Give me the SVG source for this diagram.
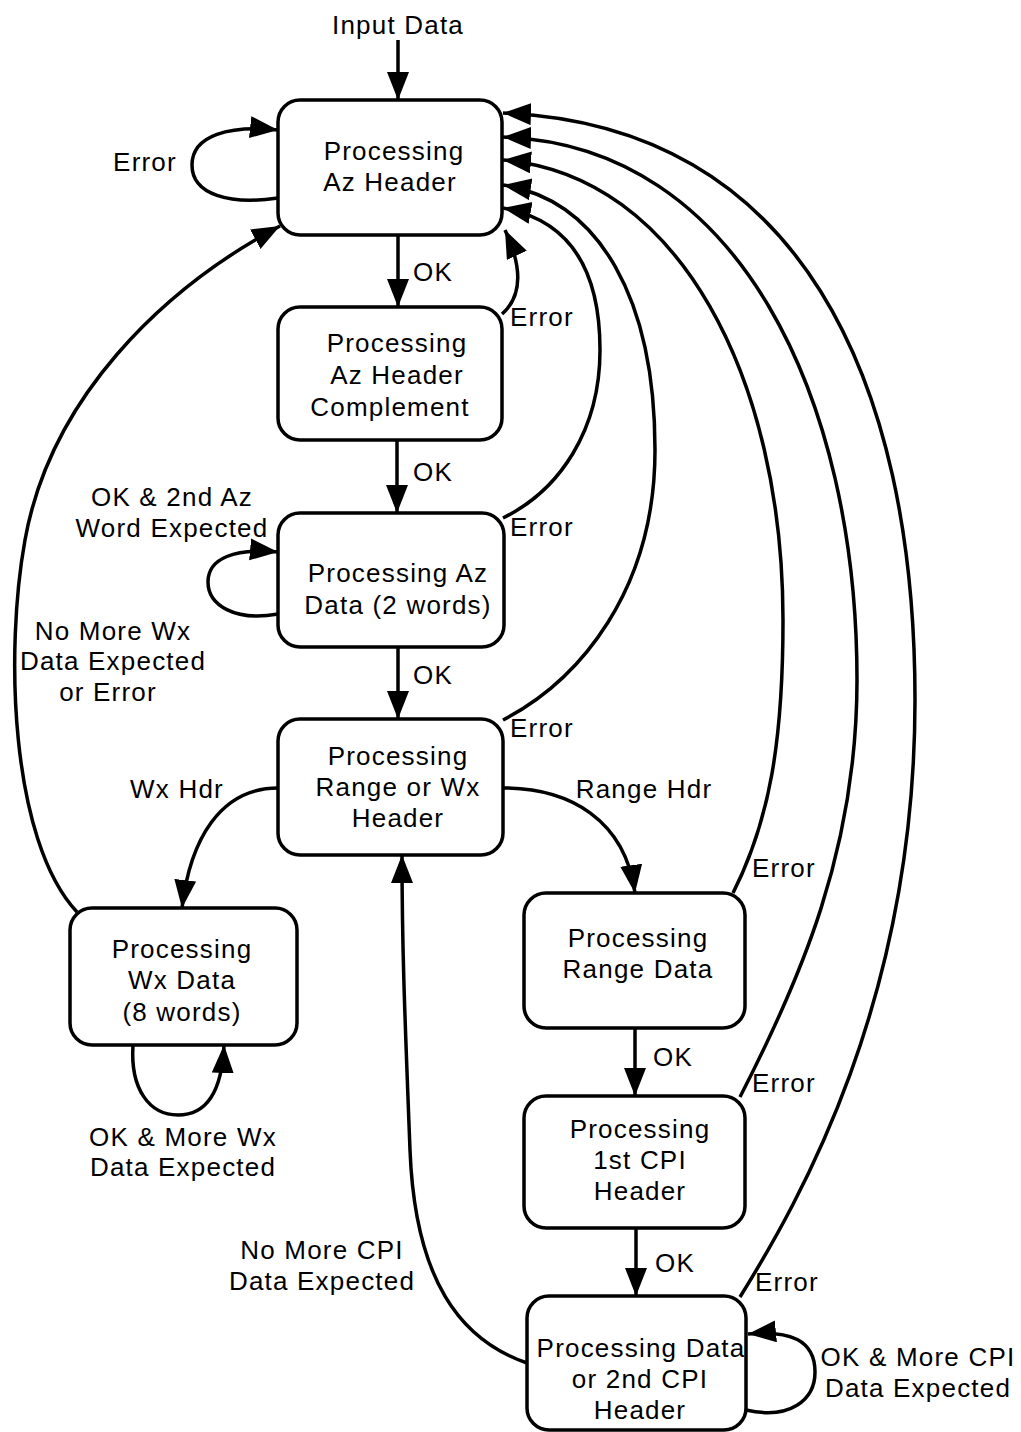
<svg xmlns="http://www.w3.org/2000/svg" width="1021" height="1432" viewBox="0 0 1021 1432">
<defs>
<style>
.n rect{fill:#fff;stroke:#000;stroke-width:3.5}
text{font-family:"Liberation Sans",Arial,sans-serif;font-size:26px;letter-spacing:1.2px;fill:#000}
.c{text-anchor:middle}
.e path{fill:none;stroke:#000;stroke-width:3.5}
</style>
<marker id="ah" markerUnits="userSpaceOnUse" markerWidth="30" markerHeight="24" refX="28" refY="11" orient="auto"><path d="M0,0 L28,11 L0,22 z" fill="#000"/></marker>
</defs>
<rect width="1021" height="1432" fill="#fff"/>
<g class="e" id="connectors">
<path d="M398 40 L398 100" marker-end="url(#ah)"/>
<path d="M398 235 L398 307" marker-end="url(#ah)"/>
<path d="M397 440 L397 513" marker-end="url(#ah)"/>
<path d="M398 647 L398 719" marker-end="url(#ah)"/>
<path d="M635 1028 L635 1096" marker-end="url(#ah)"/>
<path d="M636 1228 L636 1296" marker-end="url(#ah)"/>
<path d="M278 198 C230 205,192 195,192 165 C192 135,230 125,278 130" marker-end="url(#ah)"/>
<path d="M278 614 C235 622,208 605,208 582 C208 558,235 548,278 552" marker-end="url(#ah)"/>
<path d="M133 1045 C130 1090,150 1115,178 1115 C208 1115,222 1090,224 1045" marker-end="url(#ah)"/>
<path d="M746 1410 C790 1420,815 1400,815 1372 C815 1340,790 1330,748 1334" marker-end="url(#ah)"/>
<path d="M278 788 C220 788,190 840,182 908" marker-end="url(#ah)"/>
<path d="M503 788 C570 788,625 820,635 893" marker-end="url(#ah)"/>
<path d="M77 912 C10 840,5 650,25 540 C50 400,160 290,280 226" marker-end="url(#ah)"/>
<path d="M527 1363 C460 1340,415 1280,410 1150 C405 1020,402 950,402 855" marker-end="url(#ah)"/>
<path d="M502 314 C518 300,526 275,505 230" marker-end="url(#ah)"/>
<path d="M503 518 C560 490,600 430,600 350 C600 270,570 220,503 208" marker-end="url(#ah)"/>
<path d="M503 720 C580 680,655 590,655 450 C655 300,600 200,503 185" marker-end="url(#ah)"/>
<path d="M733 893 C770 820,783 740,783 620 C783 380,680 175,503 160" marker-end="url(#ah)"/>
<path d="M740 1097 C800 980,857 850,857 680 C857 400,740 145,503 137" marker-end="url(#ah)"/>
<path d="M740 1297 C800 1200,915 1000,915 700 C915 380,800 125,503 113" marker-end="url(#ah)"/>
</g>
<g id="n1" class="n"><rect x="278" y="100" width="224" height="135" rx="22"/><text class="c" x="394" y="160">Processing</text><text class="c" x="390" y="191">Az Header</text></g>
<g id="n2" class="n"><rect x="278" y="307" width="224" height="133" rx="22"/><text class="c" x="397" y="352">Processing</text><text class="c" x="397" y="384">Az Header</text><text class="c" x="390" y="416">Complement</text></g>
<g id="n3" class="n"><rect x="278" y="513" width="226" height="134" rx="22"/><text class="c" x="398" y="582">Processing Az</text><text class="c" x="398" y="614">Data (2 words)</text></g>
<g id="n4" class="n"><rect x="278" y="719" width="225" height="136" rx="22"/><text class="c" x="398" y="765">Processing</text><text class="c" x="398" y="796">Range or Wx</text><text class="c" x="398" y="827">Header</text></g>
<g id="n5" class="n"><rect x="70" y="908" width="227" height="137" rx="22"/><text class="c" x="182" y="958">Processing</text><text class="c" x="182" y="989">Wx Data</text><text class="c" x="182" y="1021">(8 words)</text></g>
<g id="n6" class="n"><rect x="524" y="893" width="221" height="135" rx="22"/><text class="c" x="638" y="947">Processing</text><text class="c" x="638" y="978">Range Data</text></g>
<g id="n7" class="n"><rect x="524" y="1096" width="221" height="132" rx="22"/><text class="c" x="640" y="1138">Processing</text><text class="c" x="640" y="1169">1st CPI</text><text class="c" x="640" y="1200">Header</text></g>
<g id="n8" class="n"><rect x="527" y="1296" width="219" height="134" rx="22"/><text class="c" x="641" y="1357">Processing Data</text><text class="c" x="640" y="1388">or 2nd CPI</text><text class="c" x="640" y="1419">Header</text></g>
<g id="labels">
<text class="c" x="398" y="34">Input Data</text>
<text class="c" x="145" y="171">Error</text>
<text x="413" y="281">OK</text>
<text x="413" y="481">OK</text>
<text x="413" y="684">OK</text>
<text x="653" y="1066">OK</text>
<text x="655" y="1272">OK</text>
<text x="510" y="326">Error</text>
<text x="510" y="536">Error</text>
<text x="510" y="737">Error</text>
<text x="752" y="877">Error</text>
<text x="752" y="1092">Error</text>
<text x="755" y="1291">Error</text>
<text class="c" x="177" y="798">Wx Hdr</text>
<text class="c" x="644" y="798">Range Hdr</text>
<text class="c" x="172" y="506">OK &amp; 2nd Az</text>
<text class="c" x="172" y="537">Word Expected</text>
<text class="c" x="113" y="640">No More Wx</text>
<text class="c" x="113" y="670">Data Expected</text>
<text class="c" x="108" y="701">or Error</text>
<text class="c" x="183" y="1146">OK &amp; More Wx</text>
<text class="c" x="183" y="1176">Data Expected</text>
<text class="c" x="322" y="1259">No More CPI</text>
<text class="c" x="322" y="1290">Data Expected</text>
<text class="c" x="918" y="1366">OK &amp; More CPI</text>
<text class="c" x="918" y="1397">Data Expected</text>
</g>
</svg>
